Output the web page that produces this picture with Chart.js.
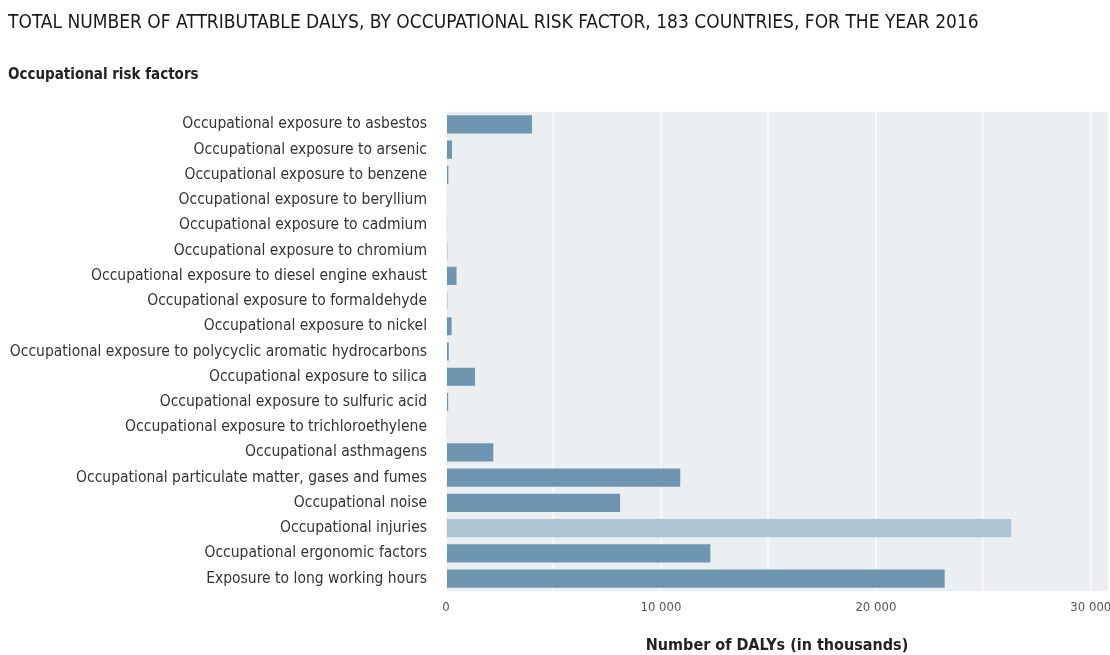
<!DOCTYPE html>
<html>
<head>
<meta charset="utf-8">
<script src="https://cdn.jsdelivr.net/npm/chart.js@4/dist/chart.umd.min.js"></script>
<style>
  html, body { margin: 0; padding: 0; background: #fff; }
  #wrap { width: 1110px; height: 655px; position: relative; }
</style>
</head>
<body>
<div id="wrap"><canvas id="chart"></canvas></div>
<script>
// risk factor categories, top to bottom
const riskFactors = [
  'Occupational exposure to asbestos',
  'Occupational exposure to arsenic',
  'Occupational exposure to benzene',
  'Occupational exposure to beryllium',
  'Occupational exposure to cadmium',
  'Occupational exposure to chromium',
  'Occupational exposure to diesel engine exhaust',
  'Occupational exposure to formaldehyde',
  'Occupational exposure to nickel',
  'Occupational exposure to polycyclic aromatic hydrocarbons',
  'Occupational exposure to silica',
  'Occupational exposure to sulfuric acid',
  'Occupational exposure to trichloroethylene',
  'Occupational asthmagens',
  'Occupational particulate matter, gases and fumes',
  'Occupational noise',
  'Occupational injuries',
  'Occupational ergonomic factors',
  'Exposure to long working hours'
];

// DALYs in thousands
const dalys = [4000, 280, 110, 50, 40, 60, 490, 60, 260, 130, 1350, 100, 40, 2200, 10900, 8100, 26300, 12300, 23200];

// gridlines every 5000, labels every 10000
const gridTicks = [0, 5000, 10000, 15000, 20000, 25000, 30000];
const labelTicks = [0, 10000, 20000, 30000];

const FONT = "'Liberation Sans Narrow', 'DejaVu Sans Condensed', 'Roboto', sans-serif";
const BAR = '#6e96b1';
const BAR_LIGHT = '#adc4d4';

// 회색 배경 (plot area)
const plotBackground = {
  id: 'plotBackground',
  beforeDraw(chart) {
    const { ctx, chartArea: a } = chart;
    ctx.save();
    ctx.fillStyle = '#ebeff2';
    ctx.fillRect(a.left, a.top, a.right - a.left, a.bottom - a.top);
    ctx.restore();
  }
};

new Chart(document.getElementById('chart'), {
  type: 'bar',
  data: {
    labels: riskFactors,
    datasets: [{
      data: dalys,
      backgroundColor: riskFactors.map(r => r === 'Occupational injuries' ? BAR_LIGHT : BAR),
      barPercentage: 0.72,
      categoryPercentage: 1
    }]
  },
  options: {
    indexAxis: 'y',
    responsive: true,
    maintainAspectRatio: false,
    animation: false,
    layout: { padding: { left: 8, right: 2, bottom: 0 } },
    plugins: {
      legend: { display: false },
      tooltip: { enabled: false },
      title: {
        display: true,
        align: 'start',
        text: 'TOTAL NUMBER OF ATTRIBUTABLE DALYS, BY OCCUPATIONAL RISK FACTOR, 183 COUNTRIES, FOR THE YEAR 2016',
        color: '#1a1a1a',
        font: { family: FONT, size: 19, weight: 'normal' },
        padding: { top: 12, bottom: 31 }
      },
      subtitle: {
        display: true,
        align: 'start',
        text: 'Occupational risk factors',
        color: '#222',
        font: { family: FONT, size: 15, weight: 'bold' },
        padding: { top: 0, bottom: 28 }
      }
    },
    scales: {
      x: {
        min: 0,
        max: 30800,
        afterBuildTicks: (scale) => {
          scale.ticks = gridTicks.map(v => ({ value: v }));
        },
        afterFit: (scale) => { scale.paddingRight = 0; },
        ticks: {
          autoSkip: false,
          color: '#555',
          padding: 9,
          maxRotation: 0,
          font: { family: FONT, size: 13 },
          callback: (v) => labelTicks.includes(v) ? String(v).replace(/\B(?=(\d{3})+(?!\d))/g, ' ') : ''
        },
        grid: { color: 'rgba(255,255,255,0.5)', lineWidth: 2, drawTicks: false },
        border: { display: false },
        title: {
          display: true,
          text: 'Number of DALYs (in thousands)',
          color: '#222',
          font: { family: FONT, size: 16, weight: 'bold' },
          padding: { top: 11, bottom: 0 }
        }
      },
      y: {
        afterFit: (scale) => { scale.width = 438; },
        ticks: {
          color: '#333',
          padding: 19,
          autoSkip: false,
          font: { family: FONT, size: 15.5 }
        },
        grid: { display: false, drawTicks: false },
        border: { display: false }
      }
    }
  },
  plugins: [plotBackground]
});
</script>
</body>
</html>
